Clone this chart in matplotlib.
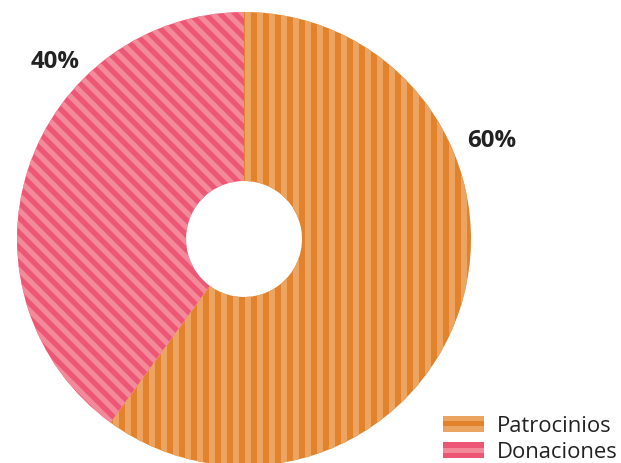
import numpy as np
import matplotlib
matplotlib.use("Agg")
import matplotlib.pyplot as plt
from matplotlib.patches import Patch, Rectangle
from matplotlib.collections import PolyCollection
from matplotlib.legend_handler import HandlerBase

# data
labels = ["Patrocinios", "Donaciones"]
values = [60, 40]
pct_text = ["60%", "40%"]

# styling
base_colors = ["#E2822B", "#EE5675"]
stripe_colors = ["#ECA462", "#F38A9A"]

DPI = 72
plt.rcParams["font.family"] = ["Open Sans", "DejaVu Sans"]

fig = plt.figure(figsize=(621 / DPI, 463 / DPI), dpi=DPI)
ax = fig.add_axes([17 / 621, -3 / 463, 454 / 621, 454 / 463])

wedges, _ = ax.pie(
    values,
    startangle=90,
    counterclock=False,
    radius=1,
    colors=base_colors,
    wedgeprops=dict(width=1 - 58 / 227, linewidth=0),
)

px = 1 / 227  # one pixel in data units

# vertical stripes on the orange slice
vbands = []
for x0 in np.arange(-1.0, 1.0, 12 * px):
    vbands.append([(x0, -1.1), (x0 + 6 * px, -1.1), (x0 + 6 * px, 1.1), (x0, 1.1)])
pc = PolyCollection(vbands, facecolors=stripe_colors[0], linewidths=0)
ax.add_collection(pc)
pc.set_clip_path(wedges[0])

# diagonal stripes on the pink slice
dbands = []
step, w = 15 * px, 7.5 * px
for c in np.arange(-2.4, 2.4, step):
    dbands.append([(-1.2, c + 1.2), (1.2, c - 1.2), (1.2, c + w - 1.2), (-1.2, c + w + 1.2)])
pc2 = PolyCollection(dbands, facecolors=stripe_colors[1], linewidths=0)
ax.add_collection(pc2)
pc2.set_clip_path(wedges[1])

ax.set_xlim(-1, 1)
ax.set_ylim(-1, 1)
ax.set_aspect("equal")
ax.axis("off")

# percentage labels (outside the ring)
ax.text(1.09, 0.43, pct_text[0], fontsize=24, fontweight="bold",
        color="#222222", ha="center", va="center")
ax.text(-0.83, 0.78, pct_text[1], fontsize=24, fontweight="bold",
        color="#222222", ha="center", va="center")


class StripedHandler(HandlerBase):
    """Legend key drawn as three horizontal bands."""

    def __init__(self, outer, inner):
        super().__init__()
        self.outer, self.inner = outer, inner

    def create_artists(self, legend, orig_handle, xdescent, ydescent,
                       width, height, fontsize, trans):
        h3 = height / 3
        arts = []
        for i, col in enumerate([self.outer, self.inner, self.outer]):
            arts.append(Rectangle((-xdescent, -ydescent + i * h3), width, h3,
                                  facecolor=col, linewidth=0, transform=trans))
        return arts


handles = [Patch(facecolor=c) for c in base_colors]
fig.legend(handles, labels, loc="lower right", bbox_to_anchor=(618 / 621, 0.0),
           frameon=False, fontsize=22, handlelength=1.86, handleheight=0.73,
           handletextpad=0.6, labelspacing=0.25, borderpad=0, borderaxespad=0,
           labelcolor="#222222",
           handler_map={handles[0]: StripedHandler(stripe_colors[0], base_colors[0]),
                        handles[1]: StripedHandler(base_colors[1], stripe_colors[1])})

fig.savefig("out.png", dpi=DPI)
